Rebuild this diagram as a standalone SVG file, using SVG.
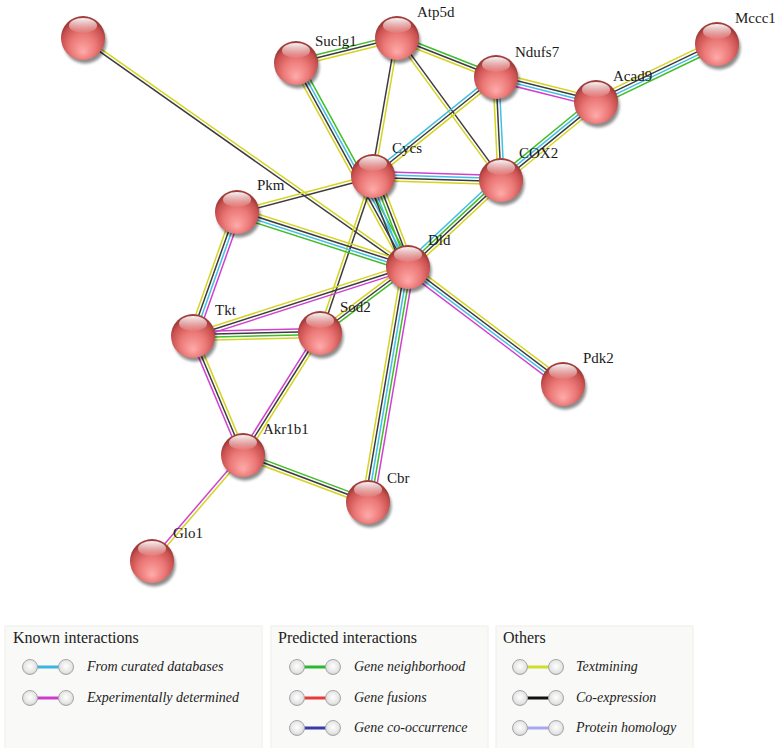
<svg xmlns="http://www.w3.org/2000/svg" xmlns:xlink="http://www.w3.org/1999/xlink" width="775" height="748" viewBox="0 0 775 748">
<style>
.e line{stroke-width:1.5;fill:none}
.y{stroke:#d4d420}.k{stroke:#3c3c3c}.c{stroke:#40c0e4}.g{stroke:#40bd28}.m{stroke:#d040d0}
.lbl{font-family:"Liberation Serif","DejaVu Serif",serif;font-size:15px;fill:#1a1a1a}
.ttl{font-family:"Liberation Serif","DejaVu Serif",serif;font-size:16px;fill:#222}
.it{font-family:"Liberation Serif","DejaVu Serif",serif;font-size:14px;font-style:italic;fill:#222}
.panel{fill:#f9f9f7;stroke:#eeeeea;stroke-width:1}
.lg{stroke-width:3}
</style>
<defs>
<radialGradient id="gBall" cx="50%" cy="62%" r="55%" fx="50%" fy="82%">
<stop offset="0" stop-color="#ffabaa"/>
<stop offset="0.55" stop-color="#ea7775"/>
<stop offset="0.88" stop-color="#c9504f"/>
<stop offset="1" stop-color="#a23c3b"/>
</radialGradient>
<linearGradient id="gGloss" x1="0" y1="0" x2="0" y2="1">
<stop offset="0" stop-color="#fff" stop-opacity="0.95"/>
<stop offset="1" stop-color="#fff" stop-opacity="0.05"/>
</linearGradient>
<radialGradient id="gSmall" cx="50%" cy="45%" r="60%">
<stop offset="0" stop-color="#ffffff"/>
<stop offset="0.7" stop-color="#e4e4e4"/>
<stop offset="1" stop-color="#bdbdbd"/>
</radialGradient>
<filter id="blur" x="-30%" y="-30%" width="160%" height="160%">
<feGaussianBlur stdDeviation="1.6"/>
</filter>
<g id="ball">
<circle cx="2" cy="4" r="21.5" fill="#000" opacity="0.45" filter="url(#blur)"/>
<circle r="22" fill="url(#gBall)"/>
<ellipse cx="0" cy="-12.5" rx="14" ry="7.5" fill="url(#gGloss)"/>
</g>
<g id="pair">
<circle cx="0" cy="0" r="7.5" fill="url(#gSmall)" stroke="#a8a8a8" stroke-width="1"/>
<circle cx="36" cy="0" r="7.5" fill="url(#gSmall)" stroke="#a8a8a8" stroke-width="1"/>
</g>
</defs>
<rect width="775" height="748" fill="#fff"/>

<g id="connectors" class="e">
<g transform="translate(83 38) rotate(35.17)"><line x2="397.6" y1="-1.5" y2="-1.5" class="y"/><line x2="397.6" y1="1.5" y2="1.5" class="k"/></g>
<g transform="translate(296 63) rotate(-13.9)"><line x2="104" y1="-3" y2="-3" class="g"/><line x2="104" class="k"/><line x2="104" y1="3" y2="3" class="y"/></g>
<g transform="translate(296 63) rotate(61.23)"><line x2="232.7" y1="-4.5" y2="-4.5" class="g"/><line x2="232.7" y1="-1.5" y2="-1.5" class="c"/><line x2="232.7" y1="1.5" y2="1.5" class="k"/><line x2="232.7" y1="4.5" y2="4.5" class="y"/></g>
<g transform="translate(397 38) rotate(99.87)"><line x2="140.1" y1="-1.5" y2="-1.5" class="y"/><line x2="140.1" y1="1.5" y2="1.5" class="k"/></g>
<g transform="translate(397 38) rotate(21.5)"><line x2="106.4" y1="-3" y2="-3" class="g"/><line x2="106.4" class="k"/><line x2="106.4" y1="3" y2="3" class="y"/></g>
<g transform="translate(397 38) rotate(53.78)"><line x2="176" y1="-1.5" y2="-1.5" class="k"/><line x2="176" y1="1.5" y2="1.5" class="y"/></g>
<g transform="translate(496 77) rotate(141.17)"><line x2="157.9" y1="-3" y2="-3" class="y"/><line x2="157.9" class="k"/><line x2="157.9" y1="3" y2="3" class="c"/></g>
<g transform="translate(496 77) rotate(87.2)"><line x2="103.1" y1="-3" y2="-3" class="c"/><line x2="103.1" class="k"/><line x2="103.1" y1="3" y2="3" class="y"/></g>
<g transform="translate(496 77) rotate(14.04)"><line x2="103.1" y1="-4.5" y2="-4.5" class="y"/><line x2="103.1" y1="-1.5" y2="-1.5" class="k"/><line x2="103.1" y1="1.5" y2="1.5" class="c"/><line x2="103.1" y1="4.5" y2="4.5" class="m"/></g>
<g transform="translate(596 102) rotate(-25.61)"><line x2="134.2" y1="-4.5" y2="-4.5" class="y"/><line x2="134.2" y1="-1.5" y2="-1.5" class="k"/><line x2="134.2" y1="1.5" y2="1.5" class="c"/><line x2="134.2" y1="4.5" y2="4.5" class="g"/></g>
<g transform="translate(596 102) rotate(140.6)"><line x2="122.9" y1="-4.5" y2="-4.5" class="y"/><line x2="122.9" y1="-1.5" y2="-1.5" class="k"/><line x2="122.9" y1="1.5" y2="1.5" class="c"/><line x2="122.9" y1="4.5" y2="4.5" class="g"/></g>
<g transform="translate(373 176) rotate(1.79)"><line x2="128.1" y1="-4.5" y2="-4.5" class="m"/><line x2="128.1" y1="-1.5" y2="-1.5" class="c"/><line x2="128.1" y1="1.5" y2="1.5" class="k"/><line x2="128.1" y1="4.5" y2="4.5" class="y"/></g>
<g transform="translate(373 176) rotate(68.96)"><line x2="97.5" y1="-6" y2="-6" class="y"/><line x2="97.5" y1="-3" y2="-3" class="k"/><line x2="97.5" class="g"/><line x2="97.5" y1="3" y2="3" class="c"/><line x2="97.5" y1="6" y2="6" class="k"/></g>
<g transform="translate(373 176) rotate(108.65)"><line x2="165.7" y1="-1.5" y2="-1.5" class="k"/><line x2="165.7" y1="1.5" y2="1.5" class="y"/></g>
<g transform="translate(237 212) rotate(-14.83)"><line x2="140.7" y1="-1.5" y2="-1.5" class="y"/><line x2="140.7" y1="1.5" y2="1.5" class="k"/></g>
<g transform="translate(237 212) rotate(17.83)"><line x2="179.6" y1="-4.5" y2="-4.5" class="y"/><line x2="179.6" y1="-1.5" y2="-1.5" class="k"/><line x2="179.6" y1="1.5" y2="1.5" class="c"/><line x2="179.6" y1="4.5" y2="4.5" class="g"/></g>
<g transform="translate(237 212) rotate(109.54)"><line x2="131.6" y1="-4.5" y2="-4.5" class="m"/><line x2="131.6" y1="-1.5" y2="-1.5" class="c"/><line x2="131.6" y1="1.5" y2="1.5" class="k"/><line x2="131.6" y1="4.5" y2="4.5" class="y"/></g>
<g transform="translate(193 336) rotate(-17.79)"><line x2="225.8" y1="-3" y2="-3" class="y"/><line x2="225.8" class="k"/><line x2="225.8" y1="3" y2="3" class="m"/></g>
<g transform="translate(193 336) rotate(-1.35)"><line x2="127" y1="-4.5" y2="-4.5" class="m"/><line x2="127" y1="-1.5" y2="-1.5" class="k"/><line x2="127" y1="1.5" y2="1.5" class="g"/><line x2="127" y1="4.5" y2="4.5" class="y"/></g>
<g transform="translate(193 336) rotate(67.21)"><line x2="129.1" y1="-3" y2="-3" class="y"/><line x2="129.1" class="k"/><line x2="129.1" y1="3" y2="3" class="m"/></g>
<g transform="translate(320 333) rotate(-36.87)"><line x2="110" y1="-3" y2="-3" class="y"/><line x2="110" class="k"/><line x2="110" y1="3" y2="3" class="g"/></g>
<g transform="translate(320 333) rotate(122.25)"><line x2="144.3" y1="-3" y2="-3" class="y"/><line x2="144.3" class="k"/><line x2="144.3" y1="3" y2="3" class="m"/></g>
<g transform="translate(408 267) rotate(37.05)"><line x2="194.2" y1="-4.5" y2="-4.5" class="y"/><line x2="194.2" y1="-1.5" y2="-1.5" class="k"/><line x2="194.2" y1="1.5" y2="1.5" class="c"/><line x2="194.2" y1="4.5" y2="4.5" class="m"/></g>
<g transform="translate(408 267) rotate(99.66)"><line x2="238.4" y1="-6" y2="-6" class="m"/><line x2="238.4" y1="-3" y2="-3" class="g"/><line x2="238.4" class="c"/><line x2="238.4" y1="3" y2="3" class="k"/><line x2="238.4" y1="6" y2="6" class="y"/></g>
<g transform="translate(408 267) rotate(-43.09)"><line x2="127.4" y1="-4.5" y2="-4.5" class="c"/><line x2="127.4" y1="-1.5" y2="-1.5" class="g"/><line x2="127.4" y1="1.5" y2="1.5" class="k"/><line x2="127.4" y1="4.5" y2="4.5" class="y"/></g>
<g transform="translate(243 455) rotate(20.6)"><line x2="133.5" y1="-3" y2="-3" class="g"/><line x2="133.5" class="k"/><line x2="133.5" y1="3" y2="3" class="y"/></g>
<g transform="translate(243 455) rotate(130.65)"><line x2="139.7" y1="-1.5" y2="-1.5" class="y"/><line x2="139.7" y1="1.5" y2="1.5" class="m"/></g>
</g>

<g id="node-unnamed" transform="translate(83 38)"><use href="#ball"/></g>
<g id="node-suclg1" transform="translate(296 63)"><use href="#ball"/><text class="lbl" x="19" y="-17">Suclg1</text></g>
<g id="node-atp5d" transform="translate(397 38)"><use href="#ball"/><text class="lbl" x="20" y="-21">Atp5d</text></g>
<g id="node-ndufs7" transform="translate(496 77)"><use href="#ball"/><text class="lbl" x="19" y="-20">Ndufs7</text></g>
<g id="node-mccc1" transform="translate(717 44)"><use href="#ball"/><text class="lbl" x="18" y="-21">Mccc1</text></g>
<g id="node-acad9" transform="translate(596 102)"><use href="#ball"/><text class="lbl" x="17" y="-21">Acad9</text></g>
<g id="node-cycs" transform="translate(373 176)"><use href="#ball"/><text class="lbl" x="19" y="-23">Cycs</text></g>
<g id="node-cox2" transform="translate(501 180)"><use href="#ball"/><text class="lbl" x="18" y="-22">COX2</text></g>
<g id="node-pkm" transform="translate(237 212)"><use href="#ball"/><text class="lbl" x="20" y="-22">Pkm</text></g>
<g id="node-dld" transform="translate(408 267)"><use href="#ball"/><text class="lbl" x="20" y="-22">Dld</text></g>
<g id="node-tkt" transform="translate(193 336)"><use href="#ball"/><text class="lbl" x="22" y="-21">Tkt</text></g>
<g id="node-sod2" transform="translate(320 333)"><use href="#ball"/><text class="lbl" x="20" y="-21">Sod2</text></g>
<g id="node-pdk2" transform="translate(563 384)"><use href="#ball"/><text class="lbl" x="20" y="-21">Pdk2</text></g>
<g id="node-akr1b1" transform="translate(243 455)"><use href="#ball"/><text class="lbl" x="20" y="-21">Akr1b1</text></g>
<g id="node-cbr" transform="translate(368 502)"><use href="#ball"/><text class="lbl" x="19" y="-19">Cbr</text></g>
<g id="node-glo1" transform="translate(152 561)"><use href="#ball"/><text class="lbl" x="21" y="-23">Glo1</text></g>

<g id="legend">
<rect class="panel" x="5" y="626" width="257" height="130"/>
<rect class="panel" x="271" y="626" width="217" height="130"/>
<rect class="panel" x="496" y="626" width="197" height="130"/>
<text class="ttl" x="13" y="643">Known interactions</text>
<text class="ttl" x="278" y="643">Predicted interactions</text>
<text class="ttl" x="503" y="643">Others</text>

<line class="lg" x1="37" y1="667" x2="59" y2="667" stroke="#38b6e0"/><use href="#pair" x="30" y="667"/>
<text class="it" x="87" y="671">From curated databases</text>
<line class="lg" x1="37" y1="698" x2="59" y2="698" stroke="#cc3ccc"/><use href="#pair" x="30" y="698"/>
<text class="it" x="87" y="702">Experimentally determined</text>

<line class="lg" x1="304" y1="667" x2="326" y2="667" stroke="#2cb82c"/><use href="#pair" x="297" y="667"/>
<text class="it" x="354" y="671">Gene neighborhood</text>
<line class="lg" x1="304" y1="698" x2="326" y2="698" stroke="#e83a3a"/><use href="#pair" x="297" y="698"/>
<text class="it" x="354" y="702">Gene fusions</text>
<line class="lg" x1="304" y1="728" x2="326" y2="728" stroke="#3a3aaa"/><use href="#pair" x="297" y="728"/>
<text class="it" x="354" y="732">Gene co-occurrence</text>

<line class="lg" x1="527" y1="667" x2="549" y2="667" stroke="#cede2a"/><use href="#pair" x="520" y="667"/>
<text class="it" x="576" y="671">Textmining</text>
<line class="lg" x1="527" y1="698" x2="549" y2="698" stroke="#111"/><use href="#pair" x="520" y="698"/>
<text class="it" x="576" y="702">Co-expression</text>
<line class="lg" x1="527" y1="728" x2="549" y2="728" stroke="#a8a8f0"/><use href="#pair" x="520" y="728"/>
<text class="it" x="576" y="732">Protein homology</text>
</g>
</svg>
